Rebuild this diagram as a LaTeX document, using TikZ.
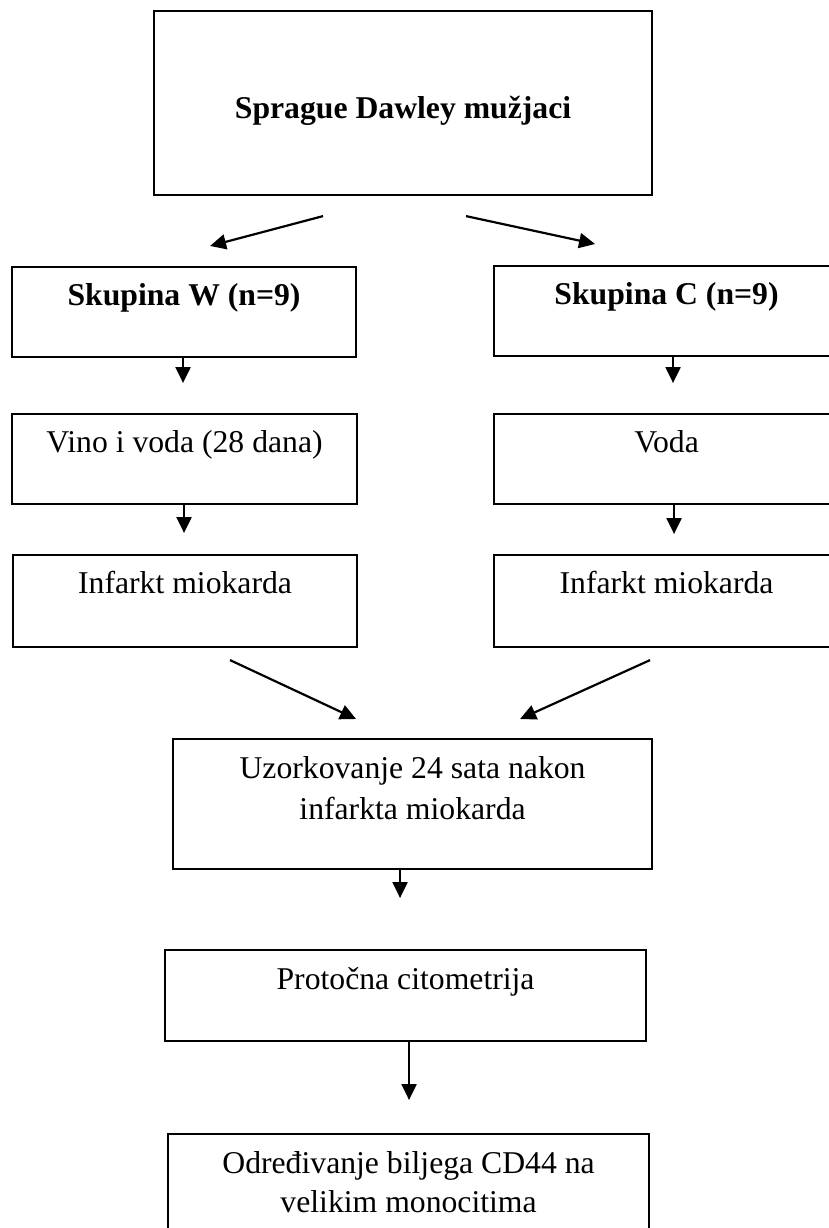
\documentclass[tikz,border=0pt]{standalone}
\usepackage{fontspec}
\setmainfont{Liberation Serif}
\usetikzlibrary{arrows.meta,calc}
\begin{document}
\begin{tikzpicture}[x=1pt,y=-1pt,
  box/.style={draw, line width=2.1pt, inner sep=0pt, rectangle, anchor=north west},
  txt/.style={inner sep=0pt, anchor=base, font=\fontsize{31.7}{40}\selectfont},
  btxt/.style={inner sep=0pt, anchor=base, font=\fontsize{31.7}{40}\selectfont\bfseries},
  arr/.style={line width=2.2pt, -{Triangle[length=16pt,width=15pt]}}]
\path[use as bounding box] (0,0) rectangle (829,1228);
\clip (0,0) rectangle (829,1228);

% boxes
\node[box, minimum width=498, minimum height=184] (top) at (153,10) {};
\node[box, minimum width=344, minimum height=90] (w) at (11,266) {};
\node[box, minimum width=345, minimum height=90] (v) at (11,413) {};
\node[box, minimum width=344, minimum height=92] (iw) at (12,554) {};
\node[box, minimum width=345, minimum height=90] (c) at (493,265) {};
\node[box, minimum width=345, minimum height=90] (voda) at (493,413) {};
\node[box, minimum width=345, minimum height=92] (ic) at (493,554) {};
\node[box, minimum width=479, minimum height=130] (uz) at (172,738) {};
\node[box, minimum width=481, minimum height=91] (prot) at (164,949) {};
\node[box, minimum width=481, minimum height=130] (odr) at (167,1133) {};

% texts
\node[btxt] (topt) at ($(top.north)+(0,108)$) {Sprague Dawley mužjaci};
\node[btxt] (wt) at ($(w.north)+(0,39)$) {Skupina W (n=9)};
\node[txt] (vt) at ($(v.north)+(0,39)$) {Vino i voda (28 dana)};
\node[txt] (iwt) at ($(iw.north)+(0,39)$) {Infarkt miokarda};
\node[btxt] (ct) at ($(c.north)+(0,39)$) {Skupina C (n=9)};
\node[txt] (vodat) at ($(voda.north)+(0,39)$) {Voda};
\node[txt] (ict) at ($(ic.north)+(0,39)$) {Infarkt miokarda};
\node[txt] (uzt) at ($(uz.north)+(0,40)$) {\parbox[t]{470pt}{\centering\fontsize{31.7}{41}\selectfont Uzorkovanje 24 sata nakon\\ infarkta miokarda}};
\node[txt] (prott) at ($(prot.north)+(0,40)$) {Protočna citometrija};
\node[txt] (odrt) at ($(odr.north)+(0,40)$) {\parbox[t]{470pt}{\centering\fontsize{31.7}{39}\selectfont Određivanje biljega CD44 na\\ velikim monocitima}};

% arrows
\draw[arr] ($(top.south)+(-80,20)$) -- ($(w.north)+(26,-20)$);
\draw[arr] ($(top.south)+(63,20)$) -- ($(c.north)+(-71.5,-21)$);
\draw[arr] ($(w.south)+(-1,0)$) -- ($(v.north)+(-1.5,-30)$);
\draw[arr] ($(v.south)+(-0.5,0)$) -- ($(iw.north)+(-1,-21)$);
\draw[arr] ($(c.south)+(6.5,0)$) -- ($(voda.north)+(6.5,-30)$);
\draw[arr] ($(voda.south)+(7.5,0)$) -- ($(ic.north)+(7.5,-20)$);
\draw[arr] ($(iw.south)+(45,12)$) -- ($(uz.north)+(-56.5,-19)$);
\draw[arr] ($(ic.south)+(-16.5,12)$) -- ($(uz.north)+(107.5,-19)$);
\draw[arr] ($(uz.south)+(-12.5,0)$) -- ($(prot.north)+(-5.5,-51)$);
\draw[arr] ($(prot.south)+(3.5,0)$) -- ($(odr.north)+(0.5,-33)$);
\end{tikzpicture}
\end{document}
